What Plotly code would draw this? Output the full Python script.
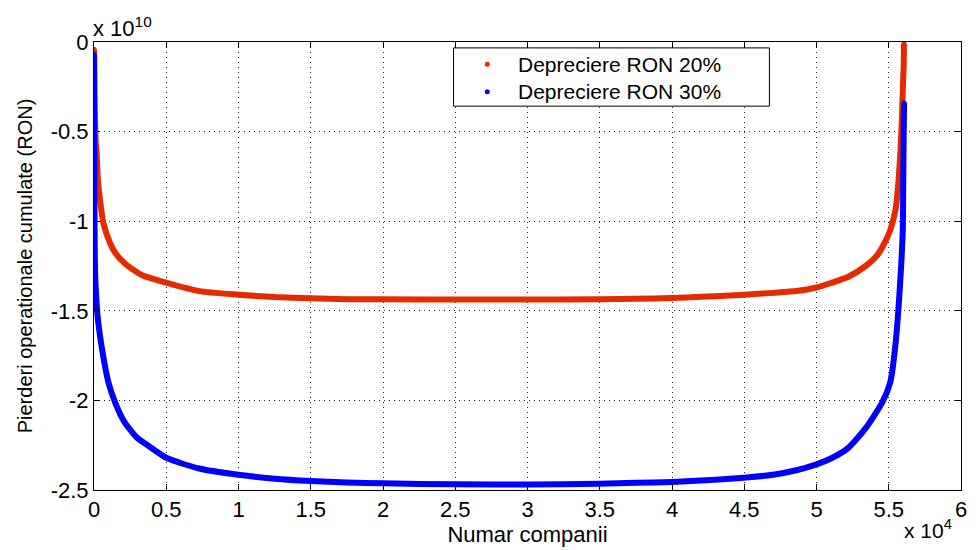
import plotly.graph_objects as go

# Number of companies (x 10^4) and cumulative operational losses (x 10^10 RON)
x_20 = [0.0005, 0.001, 0.002, 0.003, 0.005, 0.008, 0.012, 0.019, 0.026, 0.043,
        0.065, 0.11, 0.15, 0.22, 0.33, 0.5, 0.727, 1.0, 1.25, 1.5, 1.75, 2.0,
        2.5, 3.0, 3.5, 3.75, 4.0, 4.2, 4.4, 4.55, 4.7, 4.86, 5.0, 5.1, 5.22,
        5.34, 5.42, 5.465, 5.51, 5.548, 5.565, 5.58, 5.59, 5.596, 5.6, 5.603, 5.605]
y_20 = [-0.04, -0.10, -0.18, -0.26, -0.36, -0.46, -0.56, -0.63, -0.76, -0.89,
        -1.01, -1.12, -1.18, -1.24, -1.30, -1.343, -1.39, -1.41, -1.423, -1.430, -1.435, -1.436,
        -1.437, -1.437, -1.436, -1.433, -1.428, -1.422, -1.415, -1.408, -1.40, -1.39, -1.37, -1.345, -1.31,
        -1.25, -1.19, -1.13, -1.05, -0.93, -0.80, -0.62, -0.45, -0.30, -0.20, -0.15, -0.01]

x_30 = [0.0005, 0.001, 0.002, 0.003, 0.005, 0.008, 0.015, 0.026, 0.061, 0.10,
        0.15, 0.21, 0.30, 0.37, 0.5, 0.727, 1.0, 1.25, 1.5, 1.75, 2.0, 2.5,
        3.0, 3.5, 3.75, 4.0, 4.2, 4.4, 4.55, 4.7, 4.86, 5.0, 5.11, 5.22, 5.34,
        5.456, 5.51, 5.545, 5.58, 5.597, 5.6, 5.603, 5.606]
y_30 = [-0.07, -0.30, -0.60, -0.90, -1.15, -1.30, -1.42, -1.54, -1.74, -1.90,
        -2.02, -2.12, -2.21, -2.25, -2.32, -2.38, -2.415, -2.437, -2.45, -2.458, -2.463, -2.468,
        -2.469, -2.465, -2.46, -2.455, -2.447, -2.437, -2.428, -2.415, -2.39, -2.357, -2.32, -2.265, -2.155,
        -2.01, -1.90, -1.70, -1.33, -1.05, -0.80, -0.55, -0.34]

x_tick_labels = ["0", "0.5", "1", "1.5", "2", "2.5", "3", "3.5", "4", "4.5", "5", "5.5", "6"]
y_tick_labels = ["0", "-0.5", "-1", "-1.5", "-2", "-2.5"]

series_names = ["Depreciere RON 20%", "Depreciere RON 30%"]
series_colors = ["#e62a00", "#0000ff"]

X_SCALE = 1e4
Y_SCALE = 1e10

FONT = "Liberation Sans, Arial, sans-serif"
TXT = 22

fig = go.Figure()

for xs, ys, name, color in [(x_20, y_20, series_names[0], series_colors[0]),
                            (x_30, y_30, series_names[1], series_colors[1])]:
    xv = [v * X_SCALE for v in xs]
    yv = [v * Y_SCALE for v in ys]
    # dense dotted curve rendered as a thick smoothed line with point markers
    fig.add_trace(go.Scatter(x=xv, y=yv, mode="lines+markers", name=name, showlegend=False,
                             line=dict(color=color, width=6, shape="spline", smoothing=0.6),
                             marker=dict(color=color, size=5)))

axis_common = dict(
    showline=True, linecolor="black", linewidth=1, mirror="ticks",
    ticks="inside", ticklen=6, tickcolor="black",
    showgrid=True, gridcolor="#222222", griddash="1px,4px", gridwidth=1,
    zeroline=False, tickfont=dict(family=FONT, size=TXT, color="black"),
)

fig.update_xaxes(
    range=[0, 6 * X_SCALE],
    tickvals=[float(t) * X_SCALE for t in x_tick_labels],
    ticktext=x_tick_labels,
    title=dict(text="Numar companii", font=dict(family=FONT, size=TXT, color="black"), standoff=0),
    **axis_common,
)
fig.update_yaxes(
    range=[-2.5 * Y_SCALE, 0],
    tickvals=[float(t) * Y_SCALE for t in y_tick_labels],
    ticktext=y_tick_labels,
    title=dict(text="Pierderi operationale cumulate (RON)", font=dict(family=FONT, size=20, color="black"), standoff=12),
    **axis_common,
)

fig.add_annotation(text="x 10<sup>10</sup>", xref="paper", yref="paper", x=0, y=1,
                   xanchor="left", yanchor="bottom", showarrow=False, borderpad=0,
                   font=dict(family=FONT, size=TXT, color="black"), xshift=-2)
fig.add_annotation(text="x 10<sup>4</sup>", xref="paper", yref="paper", x=1, y=-0.119,
                   xanchor="right", yanchor="bottom", showarrow=False, borderpad=0,
                   font=dict(family=FONT, size=21, color="black"), xshift=-8)

# Legend box: frame, dot symbols and series labels (paper coordinates)
LEG_X0, LEG_X1, LEG_Y0, LEG_Y1 = 0.4147, 0.779, 0.8568, 0.9868
LEG_SYMBOL_X, LEG_TEXT_X = 0.4536, 0.488
LEG_ROW_Y = [0.9504, 0.8888]

fig.add_shape(type="rect", xref="paper", yref="paper",
              x0=LEG_X0, x1=LEG_X1, y0=LEG_Y0, y1=LEG_Y1,
              line=dict(color="black", width=1), fillcolor="white", layer="above")
for name, color, ry in zip(series_names, series_colors, LEG_ROW_Y):
    fig.add_shape(type="circle", xref="paper", yref="paper",
                  xsizemode="pixel", ysizemode="pixel",
                  xanchor=LEG_SYMBOL_X, yanchor=ry, x0=-2.5, x1=2.5, y0=-2.5, y1=2.5,
                  fillcolor=color, line=dict(color=color, width=0), layer="above")
    fig.add_annotation(text=name, xref="paper", yref="paper", x=LEG_TEXT_X, y=ry,
                       xanchor="left", yanchor="middle", showarrow=False, borderpad=0,
                       font=dict(family=FONT, size=21, color="black"))

fig.update_layout(
    width=979, height=550,
    margin=dict(l=94, r=12, t=42, b=54),
    paper_bgcolor="white", plot_bgcolor="white",
    showlegend=False,
)

fig.write_html("out.html")
